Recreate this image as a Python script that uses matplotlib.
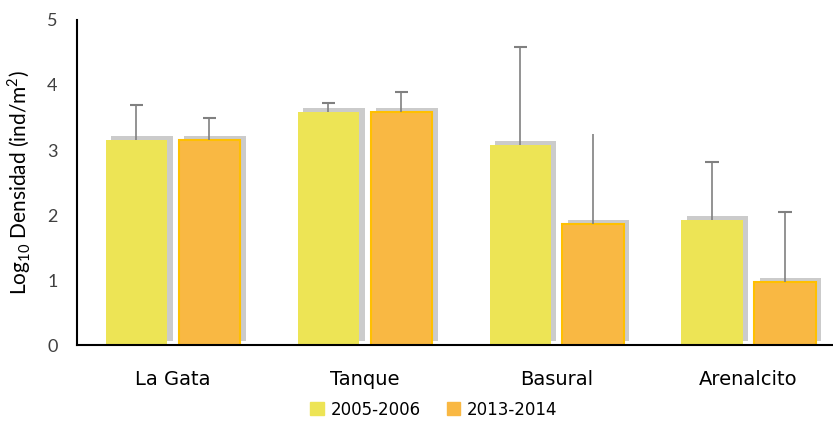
import numpy as np
import matplotlib.pyplot as plt
import matplotlib.patheffects as pe
from matplotlib.patches import Patch

plt.rcParams["mathtext.fontset"] = "custom"
plt.rcParams["mathtext.rm"] = "Lato"

# Data
sites = ["La Gata", "Tanque", "Basural", "Arenalcito"]
periods = ["2005-2006", "2013-2014"]
dens_0506 = [3.15, 3.58, 3.08, 1.92]
err_0506 = [0.55, 0.15, 1.50, 0.89]
dens_1314 = [3.15, 3.58, 1.86, 0.97]
err_1314 = [0.35, 0.31, 1.38, 1.07]
caps_1314 = [True, True, False, True]

yellow = "#EDE455"
orange = "#F9B843"
orange_edge = "#FFC000"
err_col = "#808080"
shadow = [pe.SimplePatchShadow(offset=(4, 3), shadow_rgbFace="#8c8c8c", alpha=0.45), pe.Normal()]

fig = plt.figure(figsize=(8.33, 4.21), dpi=100)
ax = fig.add_axes([0.0924, 0.1805, 0.9076, 0.772])

x = np.arange(len(sites))
w = 0.32
off = 0.19
cap = 0.035

b1 = ax.bar(x - off, dens_0506, w, color=yellow, zorder=2)
b2 = ax.bar(x + off, dens_1314, w, color=orange, edgecolor=orange_edge,
            linewidth=1.5, zorder=2)
for b in list(b1) + list(b2):
    b.set_path_effects(shadow)

# one-sided (upper) error bars
for xs, ys, es, caps in [(x - off, dens_0506, err_0506, [True] * 4),
                         (x + off, dens_1314, err_1314, caps_1314)]:
    tops = np.array(ys) + np.array(es)
    ax.vlines(xs, ys, tops, color=err_col, lw=1.2, zorder=3)
    for xi, ti, c in zip(xs, tops, caps):
        if c:
            ax.hlines(ti, xi - cap, xi + cap, color=err_col, lw=1.5, zorder=3)

ax.set_ylim(0, 5)
ax.set_xlim(-0.5, 3.44)
ax.set_yticks(range(6))
ax.set_xticks(x)
ax.set_xticklabels(sites, fontsize=14, color="black")
ax.tick_params(axis="y", length=0, pad=14, labelsize=13, labelcolor="#404040")
for t in ax.get_yticklabels():
    t.set_family("Lato")
ax.tick_params(axis="x", length=0, pad=18)
for s in ["top", "right"]:
    ax.spines[s].set_visible(False)
ax.spines["left"].set_linewidth(1.5)
ax.spines["bottom"].set_linewidth(1.5)
ax.set_ylabel(r"Log$_{\mathregular{10}}$ Densidad (ind/m$^{\mathregular{2}}$)", fontsize=15,
              labelpad=10, family="Lato")

handles = [Patch(color=yellow), Patch(color=orange)]
fig.legend(handles=handles, labels=periods, loc="lower center",
           bbox_to_anchor=(434 / 833, -0.03), ncol=2, frameon=False,
           fontsize=12, handlelength=0.8, handleheight=0.8, handletextpad=0.4,
           columnspacing=1.6)

fig.savefig("out.png", dpi=100)
